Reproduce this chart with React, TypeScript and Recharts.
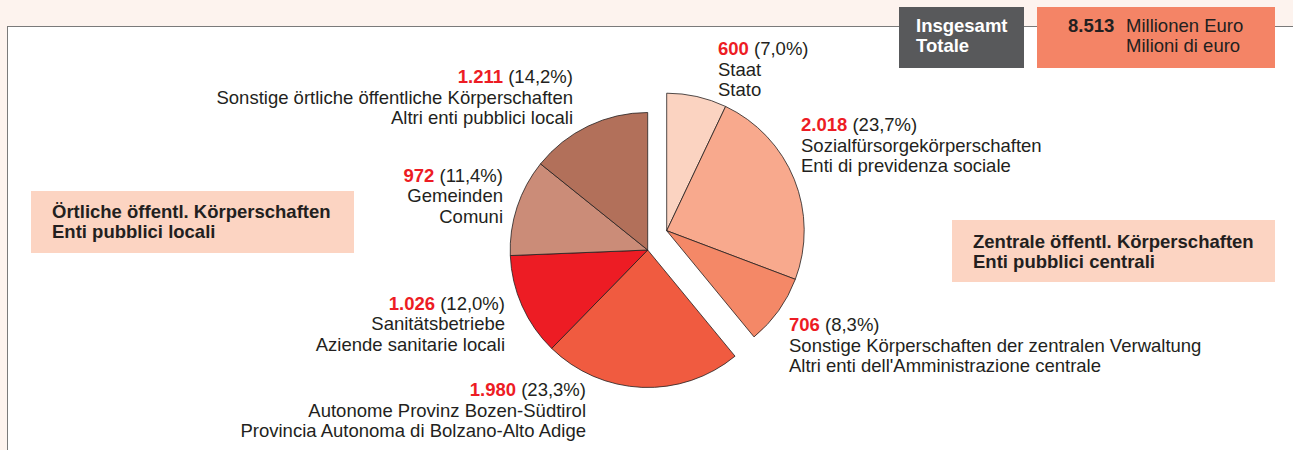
import React from "react";
import { PieChart, Pie, Cell } from "recharts";

// ---- Data (values in million euro) ----
const centralNames = ["Staat", "Sozialfürsorgekörperschaften", "Sonstige Körperschaften der zentralen Verwaltung"];
const centralNamesIt = ["Stato", "Enti di previdenza sociale", "Altri enti dell'Amministrazione centrale"];
const centralValues = [600, 2018, 706];
const centralPercents = ["7,0%", "23,7%", "8,3%"];
const centralColors = ["#fbd3c1", "#f8a98d", "#f48867"];

const localNames = ["Autonome Provinz Bozen-Südtirol", "Sanitätsbetriebe", "Gemeinden", "Sonstige örtliche öffentliche Körperschaften"];
const localNamesIt = ["Provincia Autonoma di Bolzano-Alto Adige", "Aziende sanitarie locali", "Comuni", "Altri enti pubblici locali"];
const localValues = [1980, 1026, 972, 1211];
const localPercents = ["23,3%", "12,0%", "11,4%", "14,2%"];
const localColors = ["#f05b40", "#ed1c24", "#cb8c78", "#b2705a"];

const totalLabel = "8.513";

// ---- Layout (label anchors) ----
const centralLabelPos = [
  { x: 718, y: 55, anchor: "start" },
  { x: 801, y: 131, anchor: "start" },
  { x: 789, y: 331, anchor: "start" },
];
const localLabelPos = [
  { x: 586, y: 396, anchor: "end" },
  { x: 505, y: 309.5, anchor: "end" },
  { x: 503, y: 181.5, anchor: "end" },
  { x: 573, y: 83, anchor: "end" },
];

const FONT = "'Liberation Sans', Arial, sans-serif";
const FS = 18.5;
const LH = 20.5;
const TEXT = "#231f20";
const RED = "#ed1c24";

const fmt = (v: number) => v.toString().replace(/\B(?=(\d{3})+(?!\d))/g, ".");

const centralData = centralValues.map((v, i) => ({ name: centralNames[i], it: centralNamesIt[i], value: v, pct: centralPercents[i] }));
const localData = localValues.map((v, i) => ({ name: localNames[i], it: localNamesIt[i], value: v, pct: localPercents[i] }));

const total = centralValues.reduce((a, b) => a + b, 0) + localValues.reduce((a, b) => a + b, 0);
const centralAngle = (centralValues.reduce((a, b) => a + b, 0) / total) * 360;

const makeLabel = (pos: { x: number; y: number; anchor: string }[], data: any[]) => (props: any) => {
  const i = props.index;
  const p = pos[i];
  const d = data[i];
  return (
    <g key={`lbl-${d.name}`}>
      <text x={p.x} y={p.y} textAnchor={p.anchor as any} fontFamily={FONT} fontSize={FS} fill={TEXT}>
        <tspan fill={RED} fontWeight="bold">{fmt(d.value)}</tspan>
        <tspan> ({d.pct})</tspan>
      </text>
      <text x={p.x} y={p.y + LH} textAnchor={p.anchor as any} fontFamily={FONT} fontSize={FS} fill={TEXT}>
        {d.name}
      </text>
      <text x={p.x} y={p.y + 2 * LH} textAnchor={p.anchor as any} fontFamily={FONT} fontSize={FS} fill={TEXT}>
        {d.it}
      </text>
    </g>
  );
};

const boxText: React.CSSProperties = { fontSize: FS, lineHeight: `${LH}px`, boxSizing: "border-box", position: "absolute", whiteSpace: "nowrap" };

export default function App() {
  return (
    <div style={{ position: "absolute", left: 0, top: 0, width: 1293, height: 450, background: "#fdf3ee", overflow: "hidden", fontFamily: FONT }}>
      <div style={{ position: "absolute", left: 7, top: 26, right: 0, bottom: 0, background: "#ffffff", borderLeft: "1px solid #7a7a7a", borderTop: "1px solid #7a7a7a" }} />
      {/* Total boxes */}
      <div style={{ ...boxText, left: 899, top: 7, width: 125, height: 61, background: "#58595b", color: "#ffffff", fontWeight: "bold", padding: "8.6px 0 0 17px" }}>
        Insgesamt<br />Totale
      </div>
      <div style={{ ...boxText, left: 1037, top: 7, width: 238, height: 61, background: "#f48466", color: TEXT, padding: "8.6px 0 0 31px" }}>
        <span style={{ fontWeight: "bold", display: "inline-block", width: 58 }}>{totalLabel}</span>Millionen Euro<br />
        <span style={{ display: "inline-block", width: 58 }} />Milioni di euro
      </div>
      {/* Group boxes */}
      <div style={{ ...boxText, left: 31, top: 191, width: 323, height: 62, background: "#fcd4c2", color: TEXT, fontWeight: "bold", padding: "10.6px 0 0 21px" }}>
        Örtliche öffentl. Körperschaften<br />Enti pubblici locali
      </div>
      <div style={{ ...boxText, left: 952, top: 220, width: 323, height: 62, background: "#fcd4c2", color: TEXT, fontWeight: "bold", padding: "11.6px 0 0 21px" }}>
        Zentrale öffentl. Körperschaften<br />Enti pubblici centrali
      </div>
      <div style={{ position: "absolute", left: 0, top: 0 }}>
        <PieChart width={1293} height={450} margin={{ top: 0, right: 0, bottom: 0, left: 0 }}>
          <Pie
            data={centralData}
            dataKey="value"
            cx={666.7}
            cy={230.7}
            outerRadius={137.5}
            startAngle={90}
            endAngle={90 - centralAngle}
            stroke="#231f20"
            strokeWidth={0.8}
            isAnimationActive={false}
            labelLine={false}
            label={makeLabel(centralLabelPos, centralData)}
          >
            {centralData.map((d, i) => (
              <Cell key={d.name} fill={centralColors[i]} />
            ))}
          </Pie>
          <Pie
            data={localData}
            dataKey="value"
            cx={647.7}
            cy={250}
            outerRadius={137.5}
            startAngle={90 - centralAngle}
            endAngle={-270}
            stroke="#231f20"
            strokeWidth={0.8}
            isAnimationActive={false}
            labelLine={false}
            label={makeLabel(localLabelPos, localData)}
          >
            {localData.map((d, i) => (
              <Cell key={d.name} fill={localColors[i]} />
            ))}
          </Pie>
        </PieChart>
      </div>
    </div>
  );
}
